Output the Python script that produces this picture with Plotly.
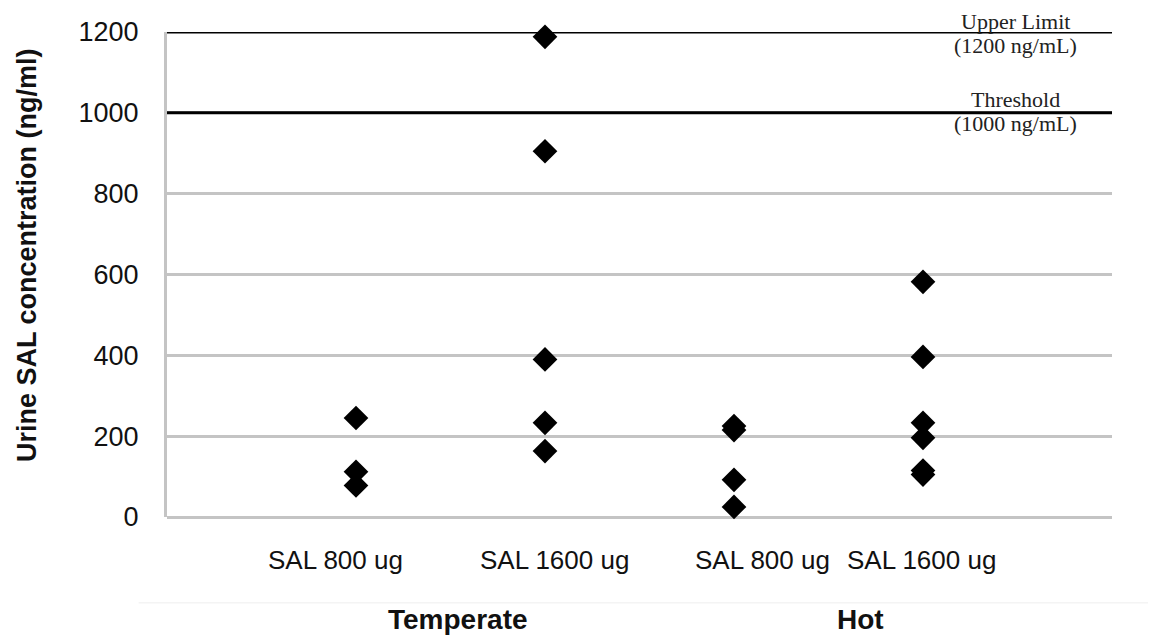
import plotly.graph_objects as go

# ---- data ----
categories = ["SAL 800 ug", "SAL 1600 ug", "SAL 800 ug", "SAL 1600 ug"]
groups = ["Temperate", "Hot"]
temperate_800 = [245, 112, 78]
temperate_1600 = [1188, 905, 390, 233, 163]
hot_800 = [225, 215, 92, 25]
hot_1600 = [582, 396, 233, 196, 115, 105]
ref_values = [1200, 1000]
ref_line1 = ["Upper Limit", "Threshold"]
ref_line2 = ["(1200 ng/mL)", "(1000 ng/mL)"]
y_ticks = [0, 200, 400, 600, 800, 1000, 1200]
y_title = "Urine SAL concentration (ng/ml)"

series = [temperate_800, temperate_1600, hot_800, hot_1600]
cat_pos = [1, 2, 3, 4]
label_shift = [-21, 9, 28, -2]  # horizontal nudges of the category labels (px)

fig = go.Figure()
xs, ys = [], []
for pos, vals in zip(cat_pos, series):
    xs += [pos] * len(vals)
    ys += vals
fig.add_trace(go.Scatter(
    x=xs, y=ys, mode="markers",
    marker=dict(symbol="diamond", size=19, color="black"),
    showlegend=False, cliponaxis=False,
))

for v in ref_values:
    fig.add_shape(type="line", xref="paper", yref="y", x0=0, x1=1, y0=v, y1=v,
                  line=dict(color="black", width=3))

shifts = [(11, -13), (13, -11)]
for v, t1, t2, (s1, s2) in zip(ref_values, ref_line1, ref_line2, shifts):
    fig.add_annotation(x=0.898, xref="paper", xanchor="center", y=v, yref="y", text=t1,
                       showarrow=False, yshift=s1,
                       font=dict(family="Liberation Serif", size=22, color="#222"))
    fig.add_annotation(x=0.898, xref="paper", xanchor="center", y=v, yref="y", text=t2,
                       showarrow=False, yshift=s2,
                       font=dict(family="Liberation Serif", size=22, color="#222"))

for pos, lab, dx in zip(cat_pos, categories, label_shift):
    fig.add_annotation(x=pos, xref="x", y=0, yref="paper", text=lab, showarrow=False,
                       xanchor="center", yanchor="middle", xshift=dx, yshift=-43,
                       font=dict(family="Liberation Sans", size=26, color="#111"))

group_x = [1.54, 3.67]
for gx, g in zip(group_x, groups):
    fig.add_annotation(x=gx, xref="x", y=-0.212, yref="paper", text="<b>" + g + "</b>",
                       showarrow=False, yanchor="middle", xanchor="center",
                       font=dict(family="Liberation Sans", size=28, color="#111"))

fig.add_annotation(x=0, xref="paper", y=0.54, yref="paper", text="<b>" + y_title + "</b>",
                   textangle=-90, showarrow=False, xanchor="center", yanchor="middle",
                   xshift=-140, font=dict(family="Liberation Sans", size=27, color="#111"))

fig.add_shape(type="line", xref="paper", yref="paper", x0=-0.03, x1=1.05,
              y0=-0.177, y1=-0.177, line=dict(color="#eeeeee", width=1))

fig.update_layout(
    width=1148, height=628,
    margin=dict(l=159, r=44, t=24, b=119),
    paper_bgcolor="white", plot_bgcolor="white",
    font=dict(family="Liberation Sans", color="#111"),
    xaxis=dict(
        range=[0, 5], tickmode="array", tickvals=cat_pos, showticklabels=False,
        showgrid=False, zeroline=False, showline=False, ticks="",
    ),
    yaxis=dict(
        range=[0, 1200], tickmode="array", tickvals=y_ticks, automargin=False,
        showgrid=True, gridcolor="#c4c4c4", gridwidth=3,
        zeroline=True, zerolinecolor="#c4c4c4", zerolinewidth=3,
        showline=True, linecolor="#c4c4c4", linewidth=3,
        ticks="outside", ticklen=20, tickcolor="rgba(0,0,0,0)",
        tickfont=dict(size=27, color="#111"),
    ),
)

fig.write_html("out.html")
